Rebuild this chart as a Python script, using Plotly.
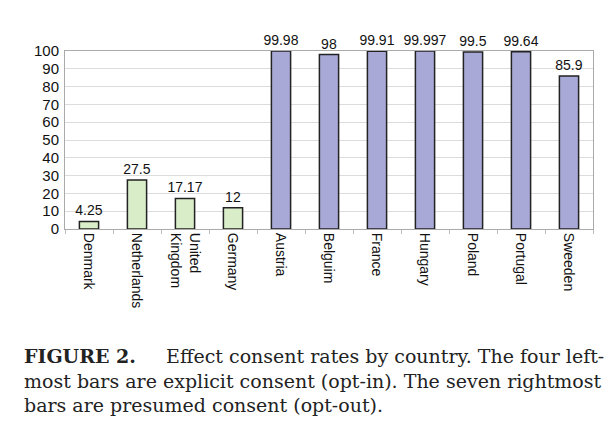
import plotly.graph_objects as go

countries = ["Denmark", "Netherlands", "United<br>Kingdom", "Germany", "Austria",
             "Belguim", "France", "Hungary", "Poland", "Portugal", "Sweeden"]
values = [4.25, 27.5, 17.17, 12, 99.98, 98, 99.91, 99.997, 99.5, 99.64, 85.9]
labels = ["4.25", "27.5", "17.17", "12", "99.98", "98", "99.91", "99.997", "99.5", "99.64", "85.9"]
groups = ["opt-in"] * 4 + ["opt-out"] * 7

colors = ["#d9edc9" if g == "opt-in" else "#a9a9d8" for g in groups]

fig = go.Figure()
fig.add_trace(go.Bar(
    x=countries, y=values, text=labels, textposition="outside", constraintext="none",
    textfont=dict(family="Liberation Sans, Arial", size=14, color="#111"),
    marker=dict(color=colors, line=dict(color="#222", width=1.5)),
    width=0.4, cliponaxis=False,
))

fig.update_layout(
    width=604, height=413,
    margin=dict(l=57, r=19, t=43, b=192, autoexpand=False),
    paper_bgcolor="white", plot_bgcolor="white",
    showlegend=False,
    uniformtext=dict(mode=False),
    xaxis=dict(tickangle=90, showline=True, linecolor="#aaa", linewidth=1,
               ticks="outside", ticklen=4, tickcolor="#bbb", tickson="boundaries",
               tickfont=dict(family="Liberation Sans, Arial", size=14, color="#111"),
               mirror=True, showgrid=False, automargin=False),
    yaxis=dict(range=[0, 100], dtick=10, showline=True, linecolor="#aaa", linewidth=1,
               mirror=True, gridcolor="#dcdcdc", zeroline=False, automargin=False,
               tickfont=dict(family="Liberation Sans, Arial", size=15, color="#111"),
               ticks="", ticklabelstandoff=2),
    annotations=[dict(
        xref="paper", yref="paper", x=-0.081, y=-0.64, xanchor="left", yanchor="top",
        align="left", showarrow=False,
        font=dict(family="DejaVu Serif", size=19, color="#222"),
        text=("<b>FIGURE 2.</b>     Effect consent rates by country. The four left-<br>"
              "most bars are explicit consent (opt-in). The seven rightmost<br>"
              "bars are presumed consent (opt-out)."),
    )],
)

fig.write_html("out.html")
